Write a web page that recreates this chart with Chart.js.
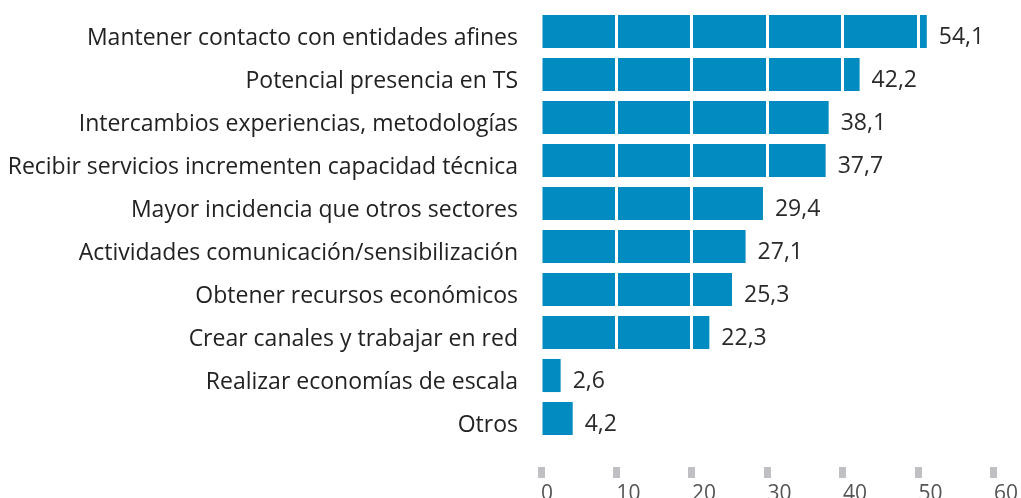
<!DOCTYPE html>
<html>
<head>
<meta charset="utf-8">
<script src="https://cdn.jsdelivr.net/npm/chart.js@4"></script>
<style>
    html, body { margin: 0; padding: 0; background: #fff; }
    #wrap { width: 1021px; height: 498px; position: relative; }
</style>
</head>
<body>
<div id="wrap"><canvas id="motivosChart"></canvas></div>
<script>
    const categories = [
        'Mantener contacto con entidades afines',
        'Potencial presencia en TS',
        'Intercambios experiencias, metodologías',
        'Recibir servicios incrementen capacidad técnica',
        'Mayor incidencia que otros sectores',
        'Actividades comunicación/sensibilización',
        'Obtener recursos económicos',
        'Crear canales y trabajar en red',
        'Realizar economías de escala',
        'Otros'
    ];
    // bar lengths as drawn in the picture (first bar is drawn shorter than its label)
    const barValues = [51.1, 42.2, 38.1, 37.7, 29.4, 27.1, 25.3, 22.3, 2.6, 4.2];
    const valueLabels = ['54,1', '42,2', '38,1', '37,7', '29,4', '27,1', '25,3', '22,3', '2,6', '4,2'];
    const xTicks = [0, 10, 20, 30, 40, 50, 60];

    const fontFamily = '"Open Sans", "Noto Sans", sans-serif';

    // drawn after everything so the white grid lines don't cut the numbers
    const valueLabelPlugin = {
        id: 'valueLabels',
        afterDraw(chart) {
            const ctx = chart.ctx;
            const meta = chart.getDatasetMeta(0);
            ctx.save();
            ctx.font = '23px ' + fontFamily;
            ctx.fillStyle = '#2a2a2a';
            ctx.textAlign = 'left';
            ctx.textBaseline = 'middle';
            meta.data.forEach((bar, i) => {
                ctx.fillText(valueLabels[i], bar.x + 12, bar.y + 6);
            });
            ctx.restore();
        }
    };

    new Chart(document.getElementById('motivosChart'), {
        type: 'bar',
        data: {
            labels: categories,
            datasets: [{
                data: barValues,
                backgroundColor: '#018bc0',
                borderWidth: 0,
                barPercentage: 0.77,
                categoryPercentage: 1
            }]
        },
        options: {
            indexAxis: 'y',
            responsive: true,
            maintainAspectRatio: false,
            animation: false,
            layout: { padding: { top: 10, right: 26, bottom: 0, left: 0 } },
            plugins: {
                legend: { display: false },
                tooltip: { enabled: false }
            },
            scales: {
                x: {
                    position: 'bottom',
                    min: 0,
                    max: 60,
                    afterBuildTicks: (scale) => { scale.ticks = xTicks.map(v => ({ value: v })); },
                    afterFit: (scale) => { scale.height = 58; },
                    border: { display: false },
                    grid: {
                        z: 1,
                        color: (c) => c.tick && c.tick.value === 0 ? 'rgba(0,0,0,0)' : '#ffffff',
                        lineWidth: 3,
                        drawTicks: true,
                        tickColor: '#c0c0c4',
                        tickWidth: 7,
                        tickLength: 38,
                        tickBorderDash: [0, 27, 11, 100]
                    },
                    ticks: {
                        align: 'start',
                        padding: 3,
                        color: '#555555',
                        font: { family: fontFamily, size: 21 },
                        callback: (v) => v
                    }
                },
                y: {
                    afterFit: (scale) => {
                        scale.width = 541;
                        scale.paddingTop = 0;
                        scale.paddingBottom = 0;
                    },
                    border: { display: false },
                    grid: { display: false },
                    ticks: {
                        padding: 15,
                        labelOffset: 7,
                        color: '#222222',
                        font: { family: fontFamily, size: 23 }
                    }
                }
            }
        },
        plugins: [valueLabelPlugin]
    });
</script>
</body>
</html>
